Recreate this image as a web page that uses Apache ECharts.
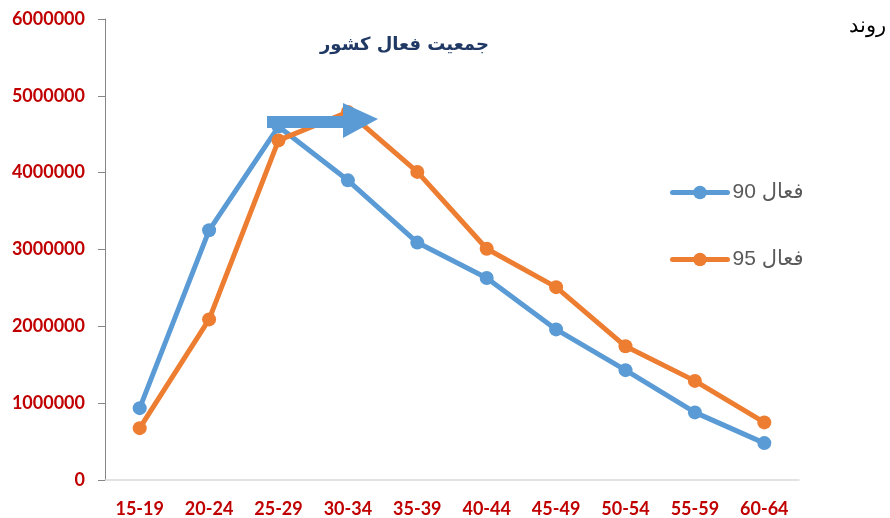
<!DOCTYPE html>
<html>
<head>
<meta charset="utf-8">
<script src="https://cdn.jsdelivr.net/npm/echarts@6/dist/echarts.min.js"></script>
<style>html,body{margin:0;padding:0;background:#fff}#c{width:890px;height:518px}</style>
</head>
<body>
<div id="c"></div>
<script>
const categories = ['15-19','20-24','25-29','30-34','35-39','40-44','45-49','50-54','55-59','60-64'];
const active90 = [935000, 3250000, 4600000, 3900000, 3090000, 2630000, 1960000, 1430000, 880000, 480000];
const active95 = [675000, 2090000, 4420000, 4790000, 4010000, 3010000, 2510000, 1740000, 1290000, 750000];
const seriesNames = ['90 فعال', '95 فعال'];
const chartTitle = 'جمعیت فعال کشور';
const sideText = 'روند';

const chart = echarts.init(document.getElementById('c'));
const labelStyle = { color: '#c00000', fontWeight: 'bold', fontFamily: 'Lato', fontSize: 18 };
chart.setOption({
  animation: false,
  backgroundColor: '#fff',
  grid: { left: 105, right: 91, top: 19, bottom: 37 },
  xAxis: {
    type: 'category', data: categories, boundaryGap: true,
    axisLine: { lineStyle: { color: '#d9d9d9', width: 1.5 } },
    axisTick: { show: false },
    axisLabel: Object.assign({ margin: 20, interval: 0 }, labelStyle),
    splitLine: { show: false }
  },
  yAxis: {
    type: 'value', min: 0, max: 6000000, interval: 1000000,
    axisLine: { show: true, lineStyle: { color: '#868686', width: 1 } },
    axisTick: { show: true, length: 7, lineStyle: { color: '#868686' } },
    axisLabel: Object.assign({ margin: 20, formatter: function (v) { return String(v); } }, labelStyle),
    splitLine: { show: false }
  },
  legend: {
    orient: 'vertical', left: 665, top: 177, itemGap: 46,
    itemWidth: 55, itemHeight: 17,
    lineStyle: { width: 5, cap: 'round' },
    textStyle: { color: '#595959', fontSize: 21, fontFamily: 'Liberation Sans, DejaVu Sans' },
    data: seriesNames
  },
  series: [
    { name: seriesNames[0], type: 'line', data: active90, symbol: 'circle', symbolSize: 14,
      itemStyle: { color: '#5b9bd5' }, lineStyle: { color: '#5b9bd5', width: 5 } },
    { name: seriesNames[1], type: 'line', data: active95, symbol: 'circle', symbolSize: 14,
      itemStyle: { color: '#ed7d31' }, lineStyle: { color: '#ed7d31', width: 5 } }
  ],
  graphic: [
    { type: 'text', left: 320, top: 36, z: 100,
      style: { text: chartTitle, fill: '#203864', fontSize: 18, fontWeight: 'bold', fontFamily: 'DejaVu Sans' } },
    { type: 'text', right: 4, top: 16, z: 100,
      style: { text: sideText, fill: '#000', fontSize: 21, fontFamily: 'serif' } },
    { type: 'polygon', z: 100,
      shape: { points: [[267,116],[343,116],[343,103],[378,119],[343,138],[343,128],[267,128]] },
      style: { fill: '#5b9bd5' } }
  ]
});
</script>
</body>
</html>
